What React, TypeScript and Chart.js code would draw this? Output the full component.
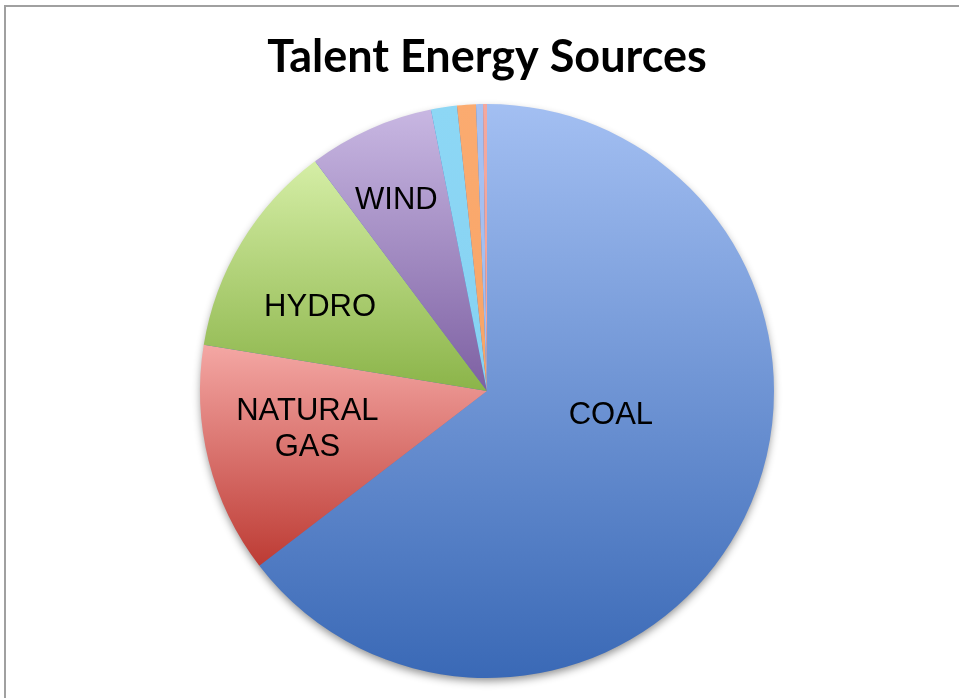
import React, { useEffect, useRef } from "react";
import { Chart, registerables } from "chart.js";

Chart.register(...registerables);

const titleText = "Talent Energy Sources";
const categories = ["COAL", "NATURAL GAS", "HYDRO", "WIND", "SOLAR", "GEOTHERMAL", "BIOMASS", "OTHER"];
const values = [64.6, 13.0, 12.2, 7.1, 1.46, 1.06, 0.39, 0.22];
const labelLines = [["COAL"], ["NATURAL", "GAS"], ["HYDRO"], ["WIND"], [], [], [], []];
const colorsTop = ["#a3bff2", "#f4a7a4", "#d5eea6", "#c8b7e2", "#8dd7f5", "#fbab70", "#a8c1f1", "#f4a89e"];
const colorsBottom = ["#3a69b6", "#bd3b34", "#8bb449", "#7d60a2", "#86d2f2", "#f8a466", "#a2bcee", "#f0a298"];
const labelRadius = [0.44, 0.64, 0.65, 0.735, 0, 0, 0, 0];
const labelAngleShift = [-15, 2, -4.7, -1.4, 0, 0, 0, 0];

function sliceGradient(context: any) {
  const i = context.dataIndex;
  const chart = context.chart;
  const area = chart.chartArea;
  if (!area) return colorsBottom[i];
  const cx = (area.left + area.right) / 2;
  const cy = (area.top + area.bottom) / 2;
  const r = Math.min(area.width, area.height) / 2;
  const total = values.reduce((a, b) => a + b, 0);
  let cum = 0;
  for (let k = 0; k < i; k++) cum += values[k];
  const a0 = -Math.PI / 2 + (cum / total) * Math.PI * 2;
  const a1 = -Math.PI / 2 + ((cum + values[i]) / total) * Math.PI * 2;
  const ys = [cy, cy + r * Math.sin(a0), cy + r * Math.sin(a1)];
  for (const t of [-Math.PI / 2, Math.PI / 2, (3 * Math.PI) / 2]) {
    if (t > a0 && t < a1) ys.push(cy + r * Math.sin(t));
  }
  const minY = Math.min(...ys);
  const maxY = Math.max(...ys);
  const g = chart.ctx.createLinearGradient(0, minY, 0, maxY + 0.001);
  g.addColorStop(0, colorsTop[i]);
  g.addColorStop(1, colorsBottom[i]);
  return g;
}

const shadowPlugin = {
  id: "pieShadow",
  beforeDatasetsDraw(chart: any) {
    const meta = chart.getDatasetMeta(0);
    const el = meta.data[0];
    if (!el) return;
    const ctx = chart.ctx;
    ctx.save();
    ctx.shadowColor = "rgba(0,0,0,0.45)";
    ctx.shadowBlur = 9;
    ctx.shadowOffsetY = 4;
    ctx.beginPath();
    ctx.arc(el.x, el.y, el.outerRadius - 1, 0, Math.PI * 2);
    ctx.fillStyle = "#4a76bd";
    ctx.fill();
    ctx.restore();
  },
};

const labelPlugin = {
  id: "sliceLabels",
  afterDatasetsDraw(chart: any) {
    const meta = chart.getDatasetMeta(0);
    const ctx = chart.ctx;
    ctx.save();
    ctx.font = "31px 'Liberation Sans', Arial, sans-serif";
    ctx.fillStyle = "#000000";
    ctx.textAlign = "center";
    ctx.textBaseline = "middle";
    meta.data.forEach((el: any, i: number) => {
      const lines = labelLines[i];
      if (!lines || !lines.length) return;
      const mid = (el.startAngle + el.endAngle) / 2 + (labelAngleShift[i] * Math.PI) / 180;
      const px = el.x + Math.cos(mid) * el.outerRadius * labelRadius[i];
      const py = el.y + Math.sin(mid) * el.outerRadius * labelRadius[i];
      const lh = 36;
      const y0 = py - ((lines.length - 1) * lh) / 2;
      lines.forEach((ln, k) => ctx.fillText(ln, px, y0 + k * lh));
    });
    ctx.restore();
  },
};

export default function App() {
  const ref = useRef<HTMLCanvasElement | null>(null);
  useEffect(() => {
    if (!ref.current) return;
    const chart = new Chart(ref.current, {
      type: "pie",
      data: {
        labels: categories,
        datasets: [
          {
            data: values,
            backgroundColor: sliceGradient as any,
            borderWidth: 0,
            hoverBorderWidth: 0,
            offset: 0,
            hoverOffset: 0,
          } as any,
        ],
      },
      options: {
        animation: false,
        responsive: true,
        maintainAspectRatio: false,
        layout: { padding: { top: 0, bottom: 20, left: 0, right: 0 } },
        plugins: {
          legend: { display: false },
          tooltip: { enabled: false },
          title: {
            display: true,
            text: titleText,
            color: "#000000",
            font: { family: "Lato, 'Open Sans', sans-serif", size: 45, weight: "bold", lineHeight: 1.2 },
            padding: { top: 30, bottom: 20 },
          },
        },
      },
      plugins: [shadowPlugin, labelPlugin],
    });
    return () => chart.destroy();
  }, []);

  return (
    <div style={{ position: "fixed", left: 0, top: 0, width: 959, height: 698, background: "#ffffff", overflow: "hidden" }}>
      <div
        style={{
          position: "absolute",
          left: 4,
          top: 5,
          right: 0,
          bottom: 0,
          borderTop: "2px solid #a0a0a0",
          borderLeft: "2px solid #a0a0a0",
        }}
      />
      <div style={{ position: "absolute", left: 15, top: 0, width: 944, height: 698 }}>
        <canvas ref={ref} />
      </div>
    </div>
  );
}
